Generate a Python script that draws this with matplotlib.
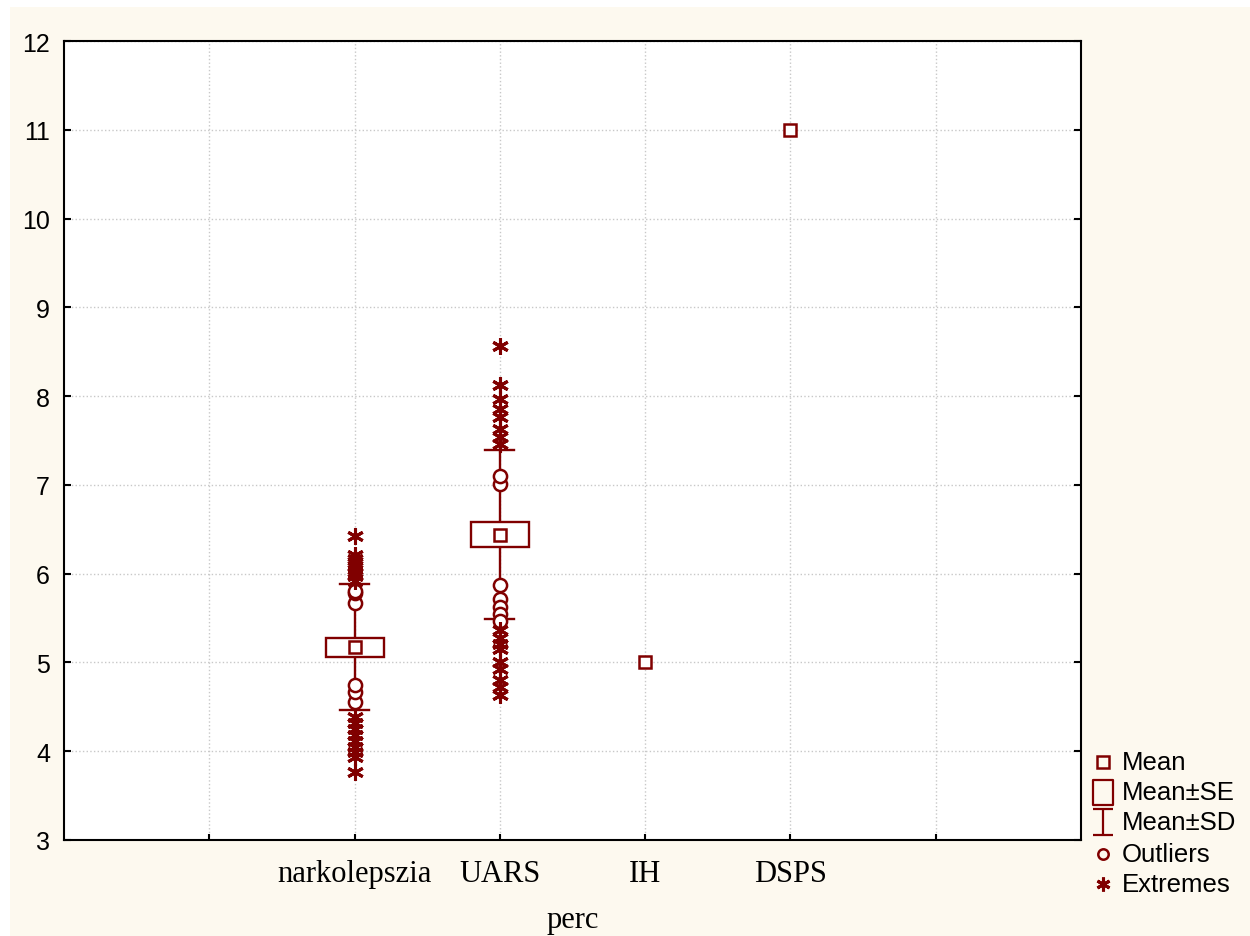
import matplotlib
matplotlib.use("Agg")
from matplotlib import pyplot as plt
from matplotlib.patches import Rectangle
from matplotlib.lines import Line2D
from matplotlib.path import Path
import numpy as np

# data
groups = ['narkolepszia', 'UARS', 'IH', 'DSPS']
positions = [2, 3, 4, 5]
means = [5.17, 6.44, 5.0, 11.0]
se = [0.105, 0.145, 0.0, 0.0]
sd = [0.71, 0.955, 0.0, 0.0]
outliers = [
    [5.67, 5.78, 5.80, 4.56, 4.67, 4.75],
    [7.01, 7.10, 5.87, 5.72, 5.62, 5.55, 5.47],
    [],
    [],
]
extremes = [
    [6.42, 6.21, 6.17, 6.12, 6.07, 6.02, 5.97, 5.92,
     4.39, 4.32, 4.25, 4.18, 4.11, 4.05, 3.99, 3.93, 3.77],
    [8.56, 8.12, 7.97, 7.86, 7.76, 7.63, 7.54, 7.46,
     5.36, 5.28, 5.21, 5.15, 5.00, 4.93, 4.80, 4.72, 4.63],
    [],
    [],
]
legend_labels = ['Mean', 'Mean±SE', 'Mean±SD', 'Outliers', 'Extremes']

red = '#800000'
cream = '#fdf9ef'
box_w = 0.2
cap_w = 0.1

ibeam = Path([(-0.77, 1), (0.77, 1), (0, 1), (0, -1), (-0.77, -1), (0.77, -1)],
             [Path.MOVETO, Path.LINETO, Path.MOVETO, Path.LINETO, Path.MOVETO, Path.LINETO])
tallbox = Path([(-0.8, -1), (0.8, -1), (0.8, 1), (-0.8, 1), (-0.8, -1)],
               [Path.MOVETO, Path.LINETO, Path.LINETO, Path.LINETO, Path.CLOSEPOLY])

fig = plt.figure(figsize=(12.5, 9.37), dpi=100, facecolor='white')
fig.add_artist(Rectangle((10/1250, 0), 1, 1 - 8/937, transform=fig.transFigure,
                         facecolor=cream, edgecolor='none', zorder=-10))
ax = fig.add_axes([64/1250, 1 - 841/937, (1081-64)/1250, (841-42)/937])
ax.set_facecolor('white')

for p, m, s, d, outs, exts in zip(positions, means, se, sd, outliers, extremes):
    if d > 0:
        ax.plot([p, p], [m + s, m + d], color=red, lw=1.7, zorder=3)
        ax.plot([p, p], [m - s, m - d], color=red, lw=1.7, zorder=3)
        for y in (m + d, m - d):
            ax.plot([p - cap_w, p + cap_w], [y, y], color=red, lw=1.7, zorder=3)
        ax.add_patch(Rectangle((p - box_w, m - s), 2*box_w, 2*s, facecolor='white',
                               edgecolor=red, lw=1.7, zorder=4))
    ax.plot([p]*len(outs), outs, 'o', ms=9.5, mfc='white', mec=red, mew=1.8, zorder=5)
    ax.plot([p]*len(exts), exts, marker=(6, 2, 0), ls='none', ms=12, mec=red, mew=2.2, zorder=5)
    ax.plot([p], [m], 's', ms=8.5, mfc='white', mec=red, mew=1.8, zorder=6)

ax.set_xlim(0, 7)
ax.set_ylim(3, 12)
ax.set_xticks([1, 2, 3, 4, 5, 6])
ax.set_xticklabels([''] + groups + [''], family='Liberation Serif', fontsize=22)
ax.set_yticks(range(3, 13))
for lab in ax.get_yticklabels():
    lab.set_family('Liberation Sans')
    lab.set_fontsize(18)
ax.tick_params(axis='y', direction='in', length=5, width=1.5, pad=10, right=True)
ax.tick_params(axis='x', direction='in', length=4, width=1.5, pad=14)
ax.grid(True, color='#c8c8c8', ls=':', lw=1)
ax.set_axisbelow(True)
for sp in ax.spines.values():
    sp.set_linewidth(1.5)
ax.set_xlabel('perc', family='Liberation Serif', fontsize=22, labelpad=12)

# legend drawn by hand beside the plot
rows_y = [763, 793, 823, 855, 885]
handles = [
    dict(marker='s', ms=8, mfc='none', mec=red, mew=1.8),
    dict(marker=tallbox, ms=18, mfc='none', mec=red, mew=1.6),
    dict(marker=ibeam, ms=18.5, mfc='none', mec=red, mew=1.6),
    dict(marker='o', ms=7.5, mfc='none', mec=red, mew=1.8),
    dict(marker=(6, 2, 0), ms=10, mec=red, mew=2.2),
]
for y, lab, h in zip(rows_y, legend_labels, handles):
    fy = 1 - y/937
    fig.add_artist(Line2D([1103/1250], [fy], transform=fig.transFigure, ls='none', **h))
    fig.text(1122/1250, fy, lab, family='Liberation Sans', fontsize=18.5, va='center', ha='left')

fig.savefig('out.png', dpi=100, facecolor=fig.get_facecolor())
